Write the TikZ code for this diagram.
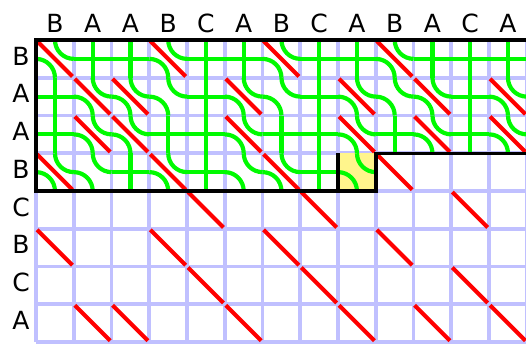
\documentclass[tikz,border=0pt]{standalone}
\usepackage{fontspec}
\setmainfont{DejaVu Sans}
\definecolor{gridblue}{RGB}{192,192,255}
\definecolor{seaweed}{RGB}{0,250,0}
\definecolor{matchred}{RGB}{255,0,0}
\definecolor{curcell}{RGB}{255,245,140}
\begin{document}
\begin{tikzpicture}[x=37.75pt,y=37.75pt,
  gridline/.style={gridblue,line width=3.8pt},
  matchline/.style={matchred,line width=4pt,shorten <=1.5pt,shorten >=2pt},
  weed/.style={seaweed,line width=4.2pt},
  frame/.style={black,line width=3.4pt},
  lbl/.style={font=\fontsize{25}{30}\selectfont,anchor=base,inner sep=0pt}]
\useasboundingbox (-0.956,1.06) rectangle (12.978,-8.05);
% grid
\foreach \x in {0,...,13} \draw[gridline] (\x,0) -- (\x,-8);
\foreach \y in {0,...,8} \draw[gridline] (0,-\y) -- (13,-\y);
% current cell
\fill[curcell] (8,-3) rectangle (9,-4);
% match diagonals
\foreach \i in {0,3,5} \foreach \j in {0,3,6,9} \draw[matchline] (\j,-\i) -- (\j+1,-\i-1);
\foreach \i in {1,2,7} \foreach \j in {1,2,5,8,10,12} \draw[matchline] (\j,-\i) -- (\j+1,-\i-1);
\foreach \i in {4,6} \foreach \j in {4,7,11} \draw[matchline] (\j,-\i) -- (\j+1,-\i-1);
% seaweed tiles
\newcommand{\bouncetile}[2]{%
  \draw[weed] (#1+0.5,-#2) arc[start angle=180,end angle=270,radius=0.5];
  \draw[weed] (#1,-#2-0.5) arc[start angle=90,end angle=0,radius=0.5];}
\newcommand{\crosstile}[2]{%
  \draw[weed] (#1+0.5,-#2) -- ++(0,-1);
  \draw[weed] (#1,-#2-0.5) -- ++(1,0);}
\foreach \j in {0,3,6,9} {\bouncetile{\j}{0}}
\foreach \j in {1,2,4,5,7,8,10,11,12} {\crosstile{\j}{0}}
\foreach \j in {1,2,3,5,6,8,9,10,12} {\bouncetile{\j}{1}}
\foreach \j in {0,4,7,11} {\crosstile{\j}{1}}
\foreach \j in {1,2,5,8,10,12} {\bouncetile{\j}{2}}
\foreach \j in {0,3,4,6,7,9,11} {\crosstile{\j}{2}}
\foreach \j in {0,1,3,5,6,8} {\bouncetile{\j}{3}}
\foreach \j in {2,4,7} {\crosstile{\j}{3}}
% frames
\draw[frame] (13.2,0) -- (0,0) -- (0,-4) -- (9,-4) -- (9,-3) -- (13.2,-3);
\draw[frame] (8,-3) -- (8,-4);
% labels
\foreach \c [count=\k from 0] in {B,A,A,B,C,A,B,C,A,B,A,C,A}
  \node[lbl] (col\k) at (\k+0.5,0.212) {\c};
\foreach \r [count=\k from 0] in {B,A,A,B,C,B,C,A}
  \node[lbl] (row\k) at (-0.40,-\k-0.665) {\r};
\end{tikzpicture}
\end{document}
